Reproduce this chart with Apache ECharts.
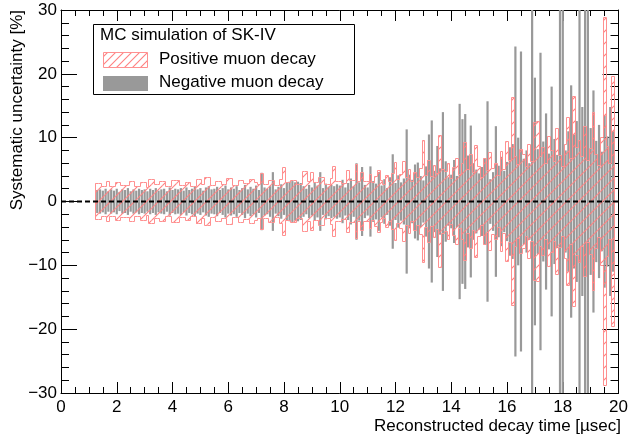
<!DOCTYPE html>
<html><head><meta charset="utf-8">
<script src="https://cdn.jsdelivr.net/npm/echarts@6/dist/echarts.min.js"></script>
<style>html,body{margin:0;padding:0;background:#fff}#c{width:631px;height:435px}</style>
</head><body><div id="c"></div>
<script>
// Bin centers [µsec]
const binCenters = [
 1.3,1.4,1.5,1.6,1.7,1.8,1.9,2.0,2.1,2.2,2.3,2.4,2.5,2.6,2.7,2.8,2.9,3.0,3.1,3.2,
 3.3,3.4,3.5,3.6,3.7,3.8,3.9,4.0,4.1,4.2,4.3,4.4,4.5,4.6,4.7,4.8,4.9,5.0,5.1,5.2,
 5.3,5.4,5.5,5.6,5.7,5.8,5.9,6.0,6.1,6.2,6.3,6.4,6.5,6.6,6.7,6.8,6.9,7.0,7.1,7.2,
 7.3,7.4,7.5,7.6,7.7,7.8,7.9,8.0,8.1,8.2,8.3,8.4,8.5,8.6,8.7,8.8,8.9,9.0,9.1,9.2,
 9.3,9.4,9.5,9.6,9.7,9.8,9.9,10.0,10.1,10.2,10.3,10.4,10.5,10.6,10.7,10.8,10.9,11.0,11.1,11.2,
 11.3,11.4,11.5,11.6,11.7,11.8,11.9,12.0,12.1,12.2,12.3,12.4,12.5,12.6,12.7,12.8,12.9,13.0,13.1,13.2,
 13.3,13.4,13.5,13.6,13.7,13.8,13.9,14.0,14.1,14.2,14.3,14.4,14.5,14.6,14.7,14.8,14.9,15.0,15.1,15.2,
 15.3,15.4,15.5,15.6,15.7,15.8,15.9,16.0,16.1,16.2,16.3,16.4,16.5,16.6,16.7,16.8,16.9,17.0,17.1,17.2,
 17.3,17.4,17.5,17.6,17.7,17.8,17.9,18.0,18.1,18.2,18.3,18.4,18.5,18.6,18.7,18.8,18.9,19.0,19.1,19.2,
 19.3,19.4,19.5,19.6,19.7,19.8
];
const binWidth = 0.1;
// Systematic uncertainty [%], positive muon decay (symmetric band)
const positiveErr = [
 2.8,2.8,2.4,2.4,3.1,2.3,2.3,2.9,2.9,2.5,2.5,2.5,3.2,3.2,2.4,2.4,3.0,3.0,2.2,3.4,
 3.4,2.6,2.6,3.1,3.1,2.3,2.3,3.3,3.3,3.3,2.5,2.5,3.0,3.0,2.4,2.4,3.5,3.5,2.6,3.8,
 3.8,2.5,2.5,3.2,3.2,2.7,2.7,3.6,3.6,2.5,2.5,3.3,3.3,2.8,2.8,3.5,3.5,3.0,2.6,4.4,
 2.7,2.7,3.3,3.3,2.5,2.5,3.4,5.4,2.9,2.9,3.3,3.3,2.6,2.6,4.7,4.7,3.2,4.6,3.0,3.0,
 3.8,3.8,2.6,2.6,3.6,5.5,3.2,3.2,2.8,2.8,4.8,3.3,3.3,5.8,3.1,4.5,3.2,3.2,4.2,2.9,
 3.9,4.8,3.3,2.6,4.0,3.1,4.4,6.1,3.5,4.3,6.2,3.8,5.0,3.2,4.5,3.7,5.2,9.6,4.1,6.5,
 3.9,5.6,4.4,10.4,5.0,4.7,6.0,3.6,5.4,6.8,4.2,5.9,9.3,5.0,7.4,4.6,8.7,5.5,3.8,6.7,
 4.9,7.6,5.2,6.0,4.0,7.8,5.0,9.4,6.4,16.3,7.0,5.8,8.2,7.3,5.5,9.0,6.2,12.4,12.6,7.0,
 8.5,5.9,10.2,8.0,6.3,11.5,7.2,5.5,9.0,13.2,6.8,16.4,8.4,9.6,7.0,11.8,6.5,8.3,14.0,7.4,
 5.7,10.0,28.8,8.6,6.0,19.6
];
// Systematic uncertainty [%], negative muon decay (symmetric band)
const negativeErr = [
 1.8,1.9,1.7,2.0,1.6,1.9,1.7,2.0,1.5,1.9,1.8,2.1,1.6,1.9,1.7,2.0,1.8,1.9,1.6,2.0,
 1.8,2.1,1.7,1.9,2.0,1.6,2.2,1.8,2.0,1.9,2.1,1.7,2.2,1.8,2.0,2.3,1.9,2.1,1.7,2.2,
 2.4,1.9,2.0,2.3,1.8,2.1,2.5,1.9,2.2,2.0,2.4,1.8,2.1,2.6,1.9,2.3,2.0,2.5,1.8,4.5,
 2.2,2.0,2.4,4.6,1.9,2.3,2.7,2.1,3.0,3.1,3.2,3.0,3.1,2.9,2.4,2.0,2.6,2.2,3.0,2.5,
 4.6,2.1,2.8,2.3,2.6,2.4,2.7,2.5,3.4,2.2,2.9,3.6,2.4,6.0,3.0,5.4,2.6,2.2,5.5,3.2,
 2.8,4.6,2.5,3.5,2.1,3.8,7.4,2.9,4.1,3.0,3.6,11.3,4.2,3.4,5.8,6.1,4.0,3.3,5.5,10.5,
 12.7,4.8,8.7,5.2,14.0,6.3,3.8,4.2,6.5,4.0,15.3,12.9,13.7,7.2,11.9,6.0,5.0,4.4,5.4,6.8,
 15.7,3.5,4.6,11.8,5.6,7.0,4.8,6.2,8.5,9.0,24.3,10.0,23.5,6.7,8.0,6.0,34.0,19.4,8.2,23.3,
 9.4,13.8,7.5,18.0,9.8,7.3,35.0,35.0,8.0,11.0,18.2,10.5,12.6,35.0,14.8,35.0,35.0,11.5,17.4,9.5,
 12.0,7.8,13.5,10.2,14.8,11.0
];
const xTickRange = [0, 20, 2];
const yTickRange = [-30, 30, 10];
const FONT = '"Liberation Sans", Arial, Helvetica, sans-serif';

function makeHatch(spacing, color, lw) {
  const c = document.createElement('canvas');
  c.width = spacing; c.height = spacing;
  const g = c.getContext('2d');
  g.strokeStyle = color; g.lineWidth = lw;
  g.beginPath();
  g.moveTo(0, spacing); g.lineTo(spacing, 0);
  g.moveTo(-2, 2); g.lineTo(2, -2);
  g.moveTo(spacing - 2, spacing + 2); g.lineTo(spacing + 2, spacing - 2);
  g.stroke();
  return c;
}
const PINK = '#ff9090';
const GRAY = '#999999';
const plotHatch = {image: makeHatch(12, '#ff8080', 1.1), repeat: 'repeat'};
const legendHatch = {image: makeHatch(8, '#ff8080', 1.1), repeat: 'repeat'};

function snap(v) { return Math.round(v - 0.5) + 0.5; }

function renderPositive(params, api) {
  const i = params.dataIndex;
  const x = api.value(0), e = api.value(1);
  const prev = i > 0 ? positiveErr[i - 1] : 0;
  const isLast = i === positiveErr.length - 1;
  const pTL = api.coord([x - binWidth / 2, e]);
  const pBR = api.coord([x + binWidth / 2, -e]);
  const yPrevTop = api.coord([x, prev])[1];
  const yPrevBot = api.coord([x, -prev])[1];
  const xl = snap(pTL[0]), xr = snap(pBR[0]);
  const yt = snap(pTL[1]), yb = snap(pBR[1]);
  const ypt = snap(yPrevTop), ypb = snap(yPrevBot);
  const lineStyle = {stroke: PINK, lineWidth: 1, fill: null};
  const children = [
    {type: 'rect', shape: {x: pTL[0], y: pTL[1], width: pBR[0] - pTL[0], height: pBR[1] - pTL[1]},
     style: {fill: plotHatch}},
    {type: 'line', shape: {x1: xl, y1: yt, x2: xr, y2: yt}, style: lineStyle},
    {type: 'line', shape: {x1: xl, y1: yb, x2: xr, y2: yb}, style: lineStyle},
    {type: 'line', shape: {x1: xl, y1: ypt, x2: xl, y2: yt}, style: lineStyle},
    {type: 'line', shape: {x1: xl, y1: ypb, x2: xl, y2: yb}, style: lineStyle}
  ];
  if (i === 0) {
    children.push({type: 'line', shape: {x1: xl, y1: yt, x2: xl, y2: yb}, style: lineStyle});
  }
  if (isLast) {
    children.push({type: 'line', shape: {x1: xr, y1: yt, x2: xr, y2: yb}, style: lineStyle});
  }
  return {type: 'group', children: children};
}

function renderNegative(params, api) {
  const x = api.value(0), e = api.value(1);
  const pT = api.coord([x, e]);
  const pB = api.coord([x, -e]);
  return {type: 'rect', shape: {x: pT[0] - 1.1, y: pT[1], width: 2.2, height: pB[1] - pT[1]},
          style: {fill: GRAY}};
}

const chart = echarts.init(document.getElementById('c'), null, {renderer: 'canvas'});
const axisCommon = {
  type: 'value',
  axisLine: {show: true, onZero: false, lineStyle: {color: '#000', width: 1}},
  splitLine: {show: false},
  minorSplitLine: {show: false}
};
const fmt = v => (v < 0 ? '\u2212' + (-v) : String(v));
chart.setOption({
  animation: false,
  backgroundColor: '#fff',
  grid: {left: 61, right: 10, top: 10, bottom: 42},
  xAxis: [
    Object.assign({}, axisCommon, {
      position: 'bottom', min: xTickRange[0], max: xTickRange[1], interval: xTickRange[2],
      axisTick: {show: true, inside: true, length: 11, lineStyle: {color: '#000'}},
      minorTick: {show: true, splitNumber: 4, length: 6, lineStyle: {color: '#000'}},
      axisLabel: {show: true, fontFamily: FONT, fontSize: 17, color: '#000', margin: 6}
    }),
    Object.assign({}, axisCommon, {
      position: 'top', min: xTickRange[0], max: xTickRange[1], interval: xTickRange[2],
      axisTick: {show: true, inside: true, length: 11, lineStyle: {color: '#000'}},
      minorTick: {show: true, splitNumber: 4, length: 6, lineStyle: {color: '#000'}},
      axisLabel: {show: false}
    })
  ],
  yAxis: [
    Object.assign({}, axisCommon, {
      position: 'left', min: yTickRange[0], max: yTickRange[1], interval: yTickRange[2],
      axisTick: {show: true, inside: true, length: 16, lineStyle: {color: '#000'}},
      minorTick: {show: true, splitNumber: 5, length: 8, lineStyle: {color: '#000'}},
      axisLabel: {show: true, fontFamily: FONT, fontSize: 17, color: '#000', margin: 4, formatter: fmt}
    }),
    Object.assign({}, axisCommon, {
      position: 'right', min: yTickRange[0], max: yTickRange[1], interval: yTickRange[2],
      axisTick: {show: true, inside: true, length: 16, lineStyle: {color: '#000'}},
      minorTick: {show: true, splitNumber: 5, length: 8, lineStyle: {color: '#000'}},
      axisLabel: {show: false}
    })
  ],
  series: [
    {
      name: 'Negative muon decay', type: 'custom', clip: true,
      renderItem: renderNegative,
      data: binCenters.map((t, i) => [t, negativeErr[i]]),
      z: 2
    },
    {
      name: 'Positive muon decay', type: 'custom', clip: true,
      renderItem: renderPositive,
      data: binCenters.map((t, i) => [t, positiveErr[i]]),
      z: 3
    },
    {
      name: 'zero', type: 'line', symbol: 'none', silent: true,
      data: [[xTickRange[0], 0], [xTickRange[1], 0]],
      lineStyle: {color: '#000', width: 2, type: [5, 3]},
      z: 4
    }
  ],
  graphic: [
    {type: 'text', x: 621, y: 426, style: {text: 'Reconstructed decay time [\u00b5sec]', fontFamily: FONT, fontSize: 17, fill: '#000', align: 'right', verticalAlign: 'middle'}},
    {type: 'text', x: 17, y: 10, rotation: Math.PI / 2, style: {text: 'Systematic uncertainty [%]', fontFamily: FONT, fontSize: 17, fill: '#000', align: 'right', verticalAlign: 'middle'}},
    {type: 'rect', shape: {x: 93.5, y: 24.5, width: 261, height: 70}, style: {fill: '#fff', stroke: '#000', lineWidth: 1}, z: 100},
    {type: 'text', x: 100, y: 35, style: {text: 'MC simulation of SK-IV', fontFamily: FONT, fontSize: 17, fill: '#000', verticalAlign: 'middle'}, z: 101},
    {type: 'rect', shape: {x: 103.5, y: 52.5, width: 44, height: 15}, style: {fill: legendHatch, stroke: PINK, lineWidth: 1}, z: 101},
    {type: 'text', x: 159, y: 59, style: {text: 'Positive muon decay', fontFamily: FONT, fontSize: 17, fill: '#000', verticalAlign: 'middle'}, z: 101},
    {type: 'rect', shape: {x: 103, y: 76, width: 45, height: 15}, style: {fill: GRAY}, z: 101},
    {type: 'text', x: 159, y: 82, style: {text: 'Negative muon decay', fontFamily: FONT, fontSize: 17, fill: '#000', verticalAlign: 'middle'}, z: 101}
  ]
});
</script></body></html>
